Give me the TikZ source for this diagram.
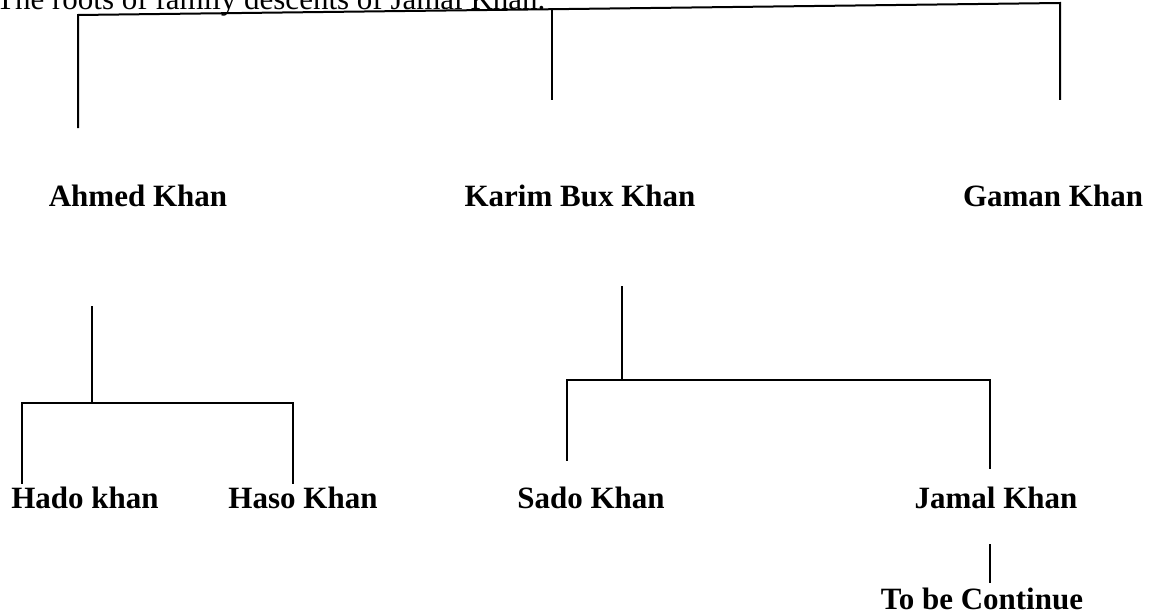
\documentclass[tikz,border=0pt]{standalone}
\usepackage{fontspec}
\setmainfont{Liberation Serif}
\begin{document}
\begin{tikzpicture}[x=1pt,y=-1pt,
  namebox/.style={anchor=base,inner sep=0pt,font=\fontsize{31}{36}\selectfont\bfseries},
  titlebox/.style={anchor=base west,inner sep=0pt,font=\fontsize{31}{36}\selectfont},
  link/.style={line width=2pt,line cap=rect}]
\useasboundingbox (0,0) rectangle (1155,615);
% title
\node[titlebox] (title) at (-4,9.5) {The roots of family descents of Jamal Khan.};
% names
\node[namebox] (ahmed) at (138,206) {Ahmed Khan};
\node[namebox] (karim) at (580,206) {Karim Bux Khan};
\node[namebox] (gaman) at (1053,206) {Gaman Khan};
\node[namebox] (hado) at (85,508) {Hado khan};
\node[namebox] (haso) at (303,508) {Haso Khan};
\node[namebox] (sado) at (591,508) {Sado Khan};
\node[namebox] (jamal) at (996,508) {Jamal Khan};
\node[namebox] (cont) at (982,609) {To be Continue};
% top bracket
\coordinate (tl) at (78,15);
\coordinate (tm) at (552,9.2);
\coordinate (tr) at (1060,3);
\coordinate (tlb) at (78,127);
\coordinate (tmb) at (552,99);
\coordinate (trb) at (1060,99);
\draw[link] (tlb) -- (tl) -- (tr) -- (trb);
\draw[link] (tm) -- (tmb);
% Ahmed's children
\coordinate (at) at (92,307);
\coordinate (am) at (92,403);
\coordinate (al) at (22,403);
\coordinate (ar) at (293,403);
\coordinate (alb) at (22,483);
\coordinate (arb) at (293,483);
\draw[link] (at) -- (am);
\draw[link] (alb) -- (al) -- (ar) -- (arb);
% Karim's children
\coordinate (kt) at (622,287);
\coordinate (km) at (622,380);
\coordinate (kl) at (567,380);
\coordinate (kr) at (990,380);
\coordinate (klb) at (567,460);
\coordinate (krb) at (990,468);
\draw[link] (kt) -- (km);
\draw[link] (klb) -- (kl) -- (kr) -- (krb);
% Jamal continuation
\coordinate (jt) at (990,545);
\coordinate (jb) at (990,582);
\draw[link] (jt) -- (jb);
\end{tikzpicture}
\end{document}
